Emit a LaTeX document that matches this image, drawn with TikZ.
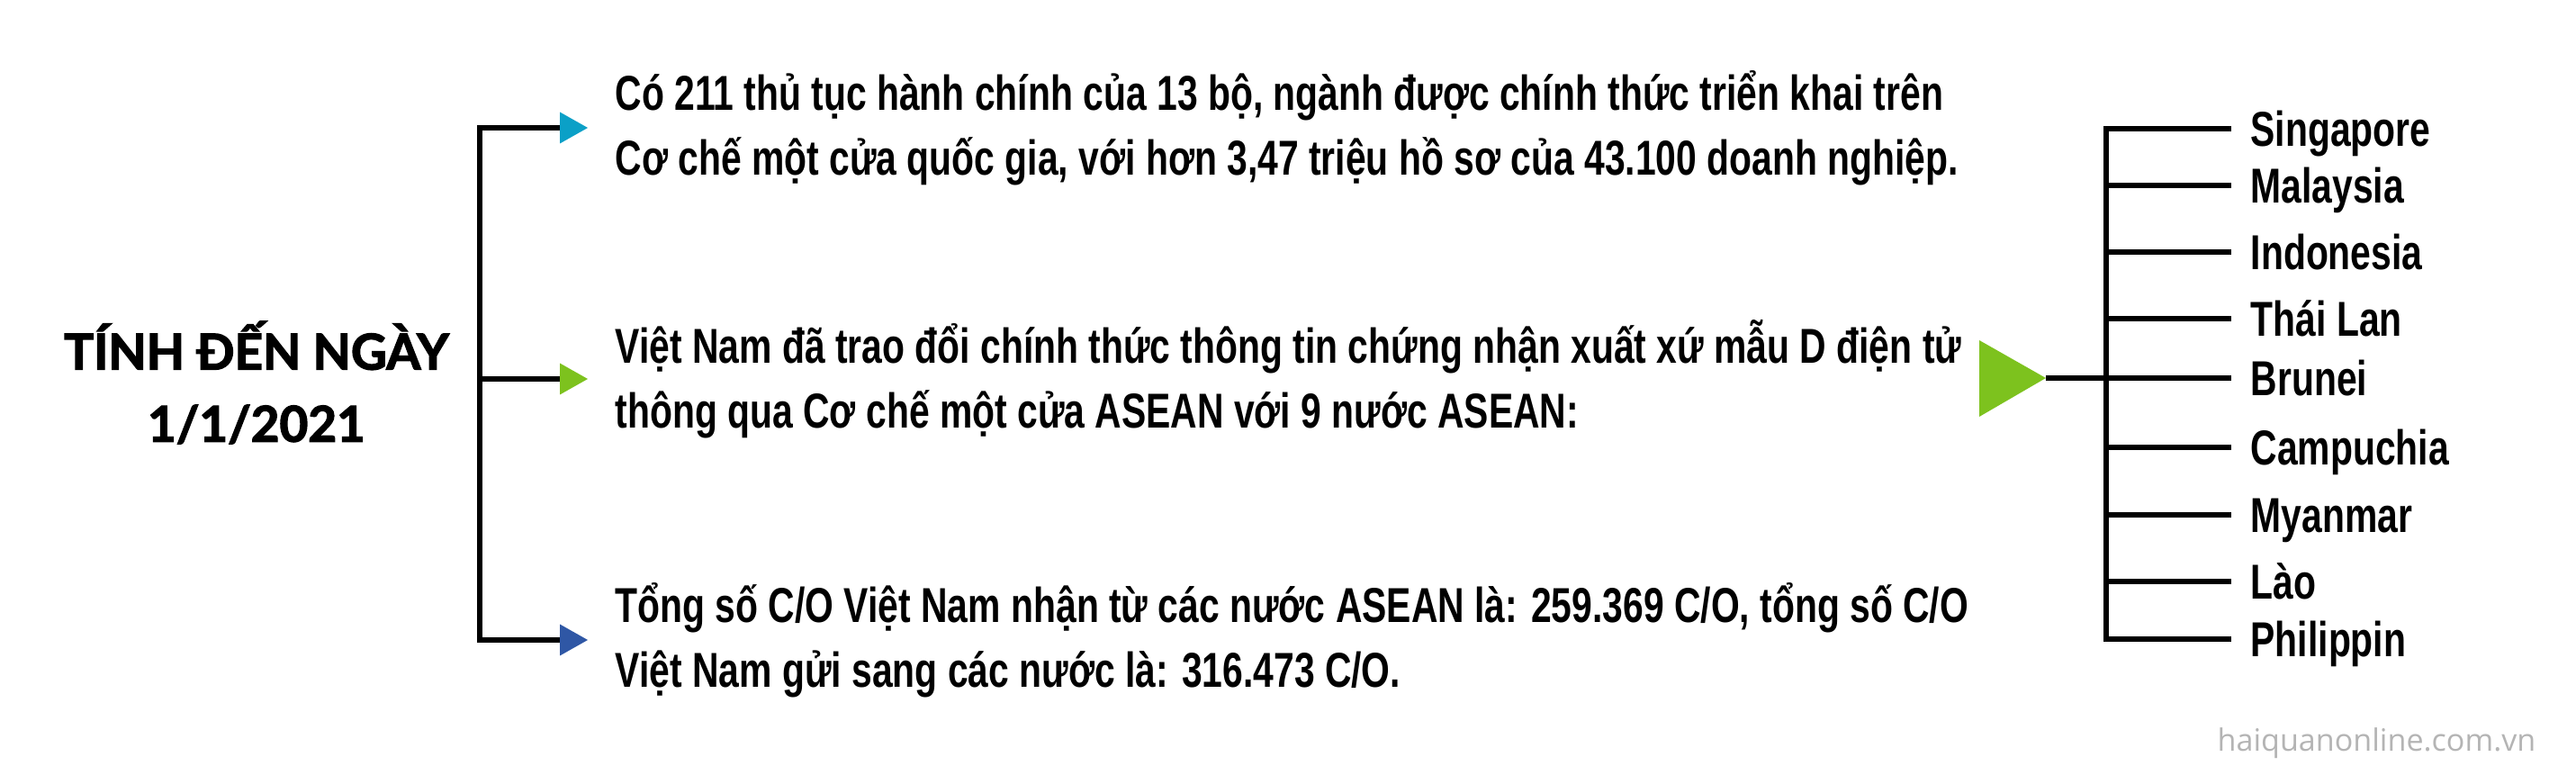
\documentclass[tikz,border=0pt]{standalone}
\usepackage{fontspec}
\setmainfont{Liberation Sans}[FakeStretch=0.75]
\newfontfamily\titlefont{Lato}[FakeBold=2.5]
\newfontfamily\webfont{Open Sans}
\usetikzlibrary{arrows.meta}
\definecolor{tipone}{HTML}{0BA0C7}
\definecolor{tiptwo}{HTML}{7DC21E}
\definecolor{tipthree}{HTML}{2F57A5}
\definecolor{webgray}{HTML}{B4B4B4}
\begin{document}
\begin{tikzpicture}[
	brk/.style={line width=1.45pt, line join=miter},
	txt/.style={anchor=west, align=left, inner ysep=0pt, inner xsep=0.3cm, font=\bfseries\fontsize{15.5}{20.6}\selectfont},
	ctry/.style={anchor=west, inner ysep=0pt, inner xsep=0.21cm, text height=0.39cm, text depth=0pt, font=\bfseries\fontsize{15.5}{20.6}\selectfont},
	tipa/.style={-{Triangle[length=0.31cm, width=0.35cm, line width=0pt, color=#1]}}
	]
		\useasboundingbox (0,0) rectangle (28.62,-8.61);
		\node[font=\titlefont\bfseries\fontsize{15.6}{22.8}\selectfont, align=center] (ttl) at (2.85,-4.25) {TÍNH ĐẾN NGÀY\\1/1/2021};
		\node[txt] (p1) at (6.53,-1.42) {Có 211 thủ tục hành chính của 13 bộ, ngành được chính thức triển khai trên\\Cơ chế một cửa quốc gia, với hơn 3,47 triệu hồ sơ của 43.100 doanh nghiệp.};
		\node[txt] (p2) at (6.53,-4.21) {Việt Nam đã trao đổi chính thức thông tin chứng nhận xuất xứ mẫu D điện tử\\thông qua Cơ chế một cửa ASEAN với 9 nước ASEAN:};
		\node[txt] (p3) at (6.53,-7.11) {Tổng số C/O Việt Nam nhận từ các nước ASEAN là: 259.369 C/O, tổng số C/O\\Việt Nam gửi sang các nước là: 316.473 C/O.};
		\coordinate (bt) at (5.33,-1.42);
		\coordinate (bm) at (5.33,-4.21);
		\coordinate (bb) at (5.33,-7.11);
		\draw[brk, {Triangle[length=0.31cm, width=0.35cm, line width=0pt, color=tipone]}-{Triangle[length=0.31cm, width=0.35cm, line width=0pt, color=tipthree]}] (p1.west) -- (bt) -- (bb) -- (p3.west);
		\draw[brk, tipa=tiptwo] (bm) -- (p2.west);
		\foreach \name/\y [count=\i] in {Singapore/1.43, Malaysia/2.06, Indonesia/2.80, Thái Lan/3.54, Brunei/4.20, Campuchia/4.97, Myanmar/5.72, Lào/6.46, Philippin/7.10} {
			\node[ctry] (c\i) at (24.79,-\y) {\name};
			\coordinate (v\i) at (23.40,-\y);
		}
		\fill[tiptwo] (21.99,-3.78) -- (22.73,-4.20) -- (21.99,-4.63) -- cycle;
		\coordinate (hub) at (22.73,-4.20);
		\draw[brk] (c1.west) -- (v1) -- (v9) -- (c9.west);
		\foreach \i in {2,...,8} {
			\draw[brk] (v\i) -- (c\i.west);
		}
		\draw[brk] (hub) -- (v5);
		\node[anchor=base east, inner sep=0pt, text=webgray, font=\webfont\fontsize{9.7}{11}\selectfont] (web) at (28.18,-8.35) {haiquanonline.com.vn};
\end{tikzpicture}
\end{document}
